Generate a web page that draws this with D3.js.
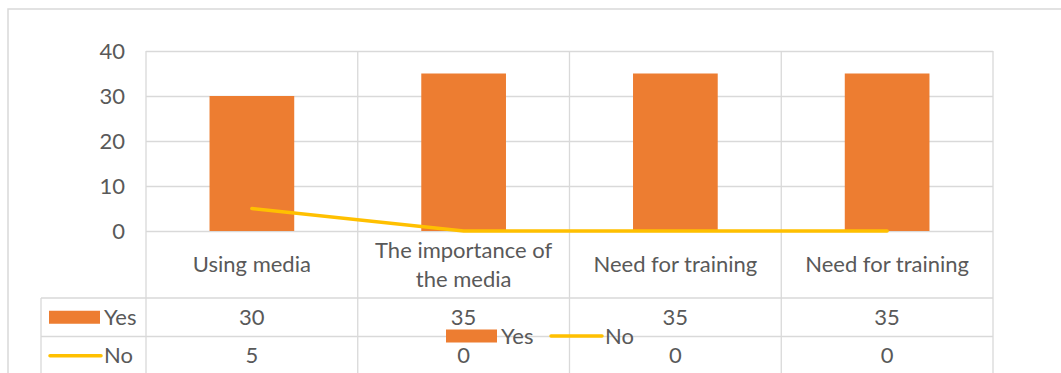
<!DOCTYPE html>
<html>
<head>
<meta charset="utf-8">
<script src="https://cdn.jsdelivr.net/npm/d3@7"></script>
<style>
    body { margin: 0; background: #fff; }
    svg { display: block; font-family: Lato, "Open Sans", sans-serif; }
    .grid line { stroke: #d9d9d9; stroke-width: 1.3; }
    text { fill: #595959; }
</style>
</head>
<body>
<div id="chart"></div>
<script>
const categories = ["Using media", "The importance of the media", "Need for training", "Need for training"];
const yesValues = [30, 35, 35, 35];
const noValues = [5, 0, 0, 0];
const yTicks = [0, 10, 20, 30, 40];
const seriesNames = ["Yes", "No"];

const width = 1061, height = 373;
const margin = { top: 51, left: 146, right: 68 };
const plotBottom = 231;
const tableTop = 298, rowH = 38.5, tableLeft = 41;
const orange = "#ed7d31", yellow = "#ffc000", gridColor = "#d9d9d9";
const fontSize = 22;

const svg = d3.select("#chart")
    .append("svg")
    .attr("width", width)
    .attr("height", height);

// Outer chart border
svg.append("rect")
    .attr("x", 8).attr("y", 9)
    .attr("width", width + 20).attr("height", height + 20)
    .attr("fill", "none")
    .attr("stroke", "#d9d9d9")
    .attr("stroke-width", 1.5);

// Scales

const x = d3.scaleBand()
    .domain(d3.range(categories.length))
    .range([margin.left, width - margin.right])
    .padding(0);

const y = d3.scaleLinear()
    .domain([0, 40])
    .range([plotBottom, margin.top]);

const barW = x.bandwidth() * 0.4;

// Horizontal grid + y labels

const yAxis = svg.append("g")
    .attr("class", "grid")
    .attr("transform", `translate(${margin.left},0)`)
    .call(d3.axisLeft(y).tickValues(yTicks).tickSize(-(width - margin.right - margin.left)).tickPadding(21));
yAxis.select(".domain").remove();
yAxis.selectAll("text")
    .attr("font-size", fontSize)
    .attr("font-family", "Lato, 'Open Sans', sans-serif")
    .attr("fill", "#595959");

// Vertical column lines (through chart and table)

const bounds = x.domain().map(d => x(d)).concat([x.range()[1]]);
svg.append("g")
    .selectAll("line")
    .data(bounds)
    .join("line")
    .attr("x1", d => d).attr("x2", d => d)
    .attr("y1", margin.top).attr("y2", height + 5)
    .attr("stroke", gridColor)
    .attr("stroke-width", 1.3);

// Table lines
svg.append("g")
    .selectAll("line")
    .data([tableTop, tableTop + rowH, tableTop + rowH * 2])
    .join("line")
    .attr("x1", tableLeft).attr("x2", x.range()[1])
    .attr("y1", d => d).attr("y2", d => d)
    .attr("stroke", gridColor)
    .attr("stroke-width", 1.3);
svg.append("line")
    .attr("x1", tableLeft).attr("x2", tableLeft)
    .attr("y1", tableTop).attr("y2", height + 5)
    .attr("stroke", gridColor)
    .attr("stroke-width", 1.3);

// Bars

svg.append("g")
    .selectAll("rect")
    .data(yesValues)
    .join("rect")
    .attr("x", (d, i) => x(i) + (x.bandwidth() - barW) / 2)
    .attr("y", d => y(d))
    .attr("width", barW)
    .attr("height", d => y(0) - y(d))
    .attr("fill", orange);

// Line

const line = d3.line()
    .x((d, i) => x(i) + x.bandwidth() / 2)
    .y(d => y(d));

svg.append("path")
    .datum(noValues)
    .attr("d", line)
    .attr("fill", "none")
    .attr("stroke", yellow)
    .attr("stroke-width", 3.5)
    .attr("stroke-linecap", "round");

// Category labels (wrapped)

const catG = svg.append("g");
categories.forEach((c, i) => {
    const cx = x(i) + x.bandwidth() / 2;
    const words = c.split(" ");
    const lines = [];
    let cur = "";
    const probe = catG.append("text").attr("font-size", fontSize);
    words.forEach(w => {
        const test = cur ? cur + " " + w : w;
        probe.text(test);
        if (probe.node().getComputedTextLength() > x.bandwidth() - 20 && cur) {
            lines.push(cur);
            cur = w;
        } else {
            cur = test;
        }
    });
    lines.push(cur);
    probe.remove();
    const midY = (plotBottom + tableTop) / 2;
    const lh = 29;
    lines.forEach((l, j) => {
        catG.append("text")
            .attr("x", cx)
            .attr("y", midY + (j - (lines.length - 1) / 2) * lh)
            .attr("dy", "0.35em")
            .attr("text-anchor", "middle")
            .attr("font-size", fontSize)
            .text(l);
    });
});

// Table values

const rows = [yesValues, noValues];
rows.forEach((vals, r) => {
    const cy = tableTop + rowH * r + rowH / 2;
    svg.append("g")
        .selectAll("text")
        .data(vals)
        .join("text")
        .attr("x", (d, i) => x(i) + x.bandwidth() / 2)
        .attr("y", cy)
        .attr("dy", "0.35em")
        .attr("text-anchor", "middle")
        .attr("font-size", fontSize)
        .text(d => d);
});

// Row keys

function drawKey(g, name, kx, ky) {
    if (name === "Yes") {
        g.append("rect")
            .attr("x", kx).attr("y", ky - 6.5)
            .attr("width", 51).attr("height", 13)
            .attr("fill", orange);
    } else {
        g.append("line")
            .attr("x1", kx + 1).attr("x2", kx + 52)
            .attr("y1", ky).attr("y2", ky)
            .attr("stroke", yellow)
            .attr("stroke-width", 3.5)
            .attr("stroke-linecap", "round");
    }
    g.append("text")
        .attr("x", kx + 55)
        .attr("y", ky)
        .attr("dy", "0.35em")
        .attr("font-size", fontSize)
        .text(name);
}

seriesNames.forEach((s, r) => {
    drawKey(svg.append("g"), s, 49, tableTop + rowH * r + rowH / 2);
});

// Legend (overlapping table)
const legendY = 336;
drawKey(svg.append("g"), seriesNames[0], 446, legendY);
drawKey(svg.append("g"), seriesNames[1], 550, legendY);
</script>
</body>
</html>
